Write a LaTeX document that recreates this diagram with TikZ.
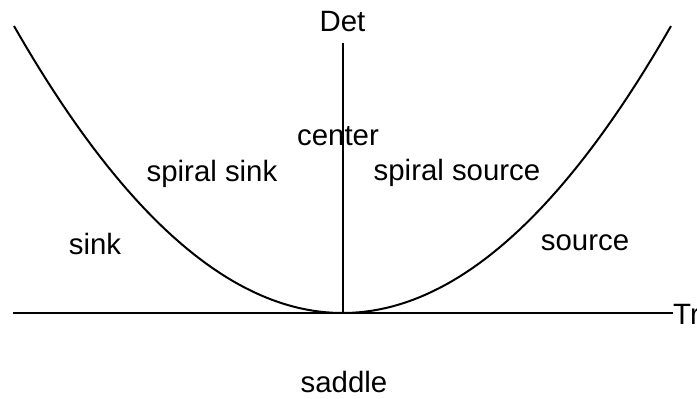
\documentclass[tikz,border=0pt]{standalone}
\usepackage{fontspec}
\setmainfont{Liberation Sans}
\usetikzlibrary{positioning}
\tikzset{
  axis/.style={line width=2bp},
  curve/.style={line width=2bp},
  lbl/.style={anchor=base,inner sep=0pt,font=\fontsize{29.5}{33}\selectfont},
}

\begin{document}
\begin{tikzpicture}[x=1bp,y=-1bp]
\useasboundingbox (0,0) rectangle (697,398);
\coordinate (O) at (342.5,313);
\coordinate (left) at (13,313);
\node[lbl,anchor=base west] (tr) at (673,324) {Tr};
\node[lbl] (det) at (342.5,31) {Det};
\coordinate (top) at (342.5,43);
\draw[axis] (left) -- (tr.west |- O);
\draw[axis] (O) -- (top);
\draw[curve] plot[domain=14:671,samples=100] (\x,{313-287*((\x-342.5)/328.5)^2});
\node[lbl] (center) at (338,145) {center};
\node[lbl] (spsink) at (212,181) {spiral sink};
\node[lbl] (spsource) at (457,180) {spiral source};
\node[lbl] (sink) at (95,254) {sink};
\node[lbl] (source) at (585,250) {source};
\node[lbl] (saddle) at (344,392) {saddle};
\end{tikzpicture}
\end{document}
